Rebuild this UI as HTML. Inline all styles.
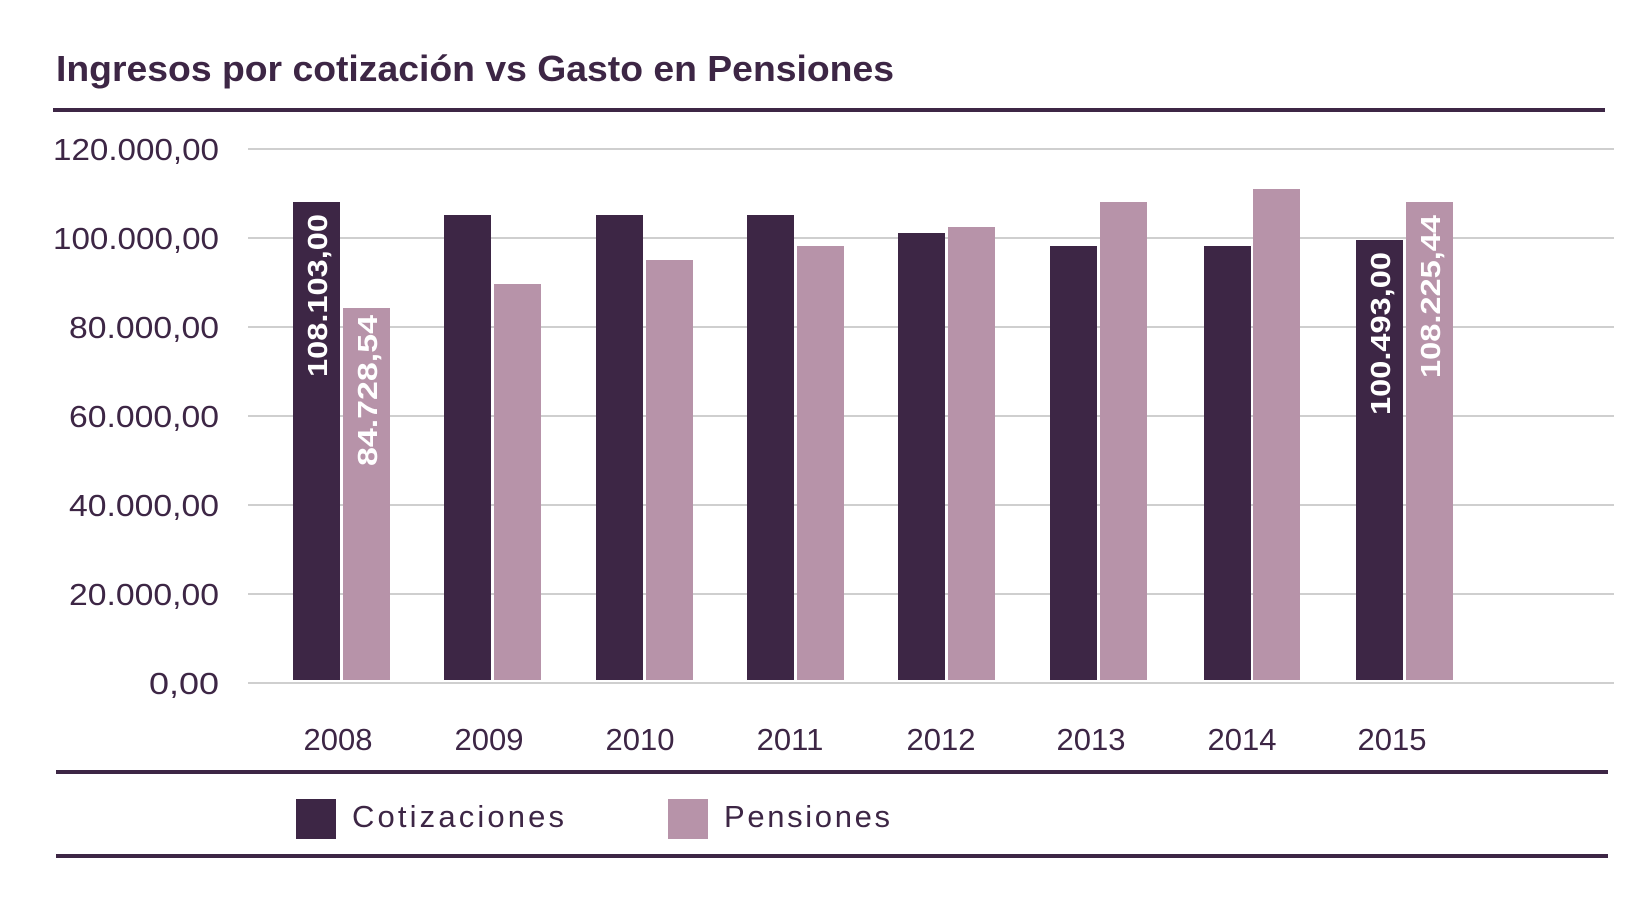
<!DOCTYPE html>
<html><head><meta charset="utf-8"><style>
html,body{margin:0;padding:0;background:#fff;}
svg{display:block;font-family:"Liberation Sans",sans-serif;}
</style></head><body>
<svg width="1647" height="907" viewBox="0 0 1647 907" xmlns="http://www.w3.org/2000/svg">
<text x="56" y="81" font-size="36" fill="#3d2645" font-weight="bold" textLength="838" lengthAdjust="spacingAndGlyphs">Ingresos por cotización vs Gasto en Pensiones</text>
<rect x="53" y="108" width="1552" height="4" fill="#3d2645"/>
<g stroke="#cfcfcf" stroke-width="2">
<line x1="248" x2="1614" y1="149" y2="149"/>
<line x1="248" x2="1614" y1="238" y2="238"/>
<line x1="248" x2="1614" y1="327" y2="327"/>
<line x1="248" x2="1614" y1="416" y2="416"/>
<line x1="248" x2="1614" y1="505" y2="505"/>
<line x1="248" x2="1614" y1="594" y2="594"/>
<line x1="248" x2="1614" y1="683" y2="683"/>
</g>
<g font-size="31" fill="#3d2645" text-anchor="end">
<text x="219" y="160" textLength="166" lengthAdjust="spacingAndGlyphs">120.000,00</text>
<text x="219" y="249" textLength="166" lengthAdjust="spacingAndGlyphs">100.000,00</text>
<text x="219" y="338" textLength="150" lengthAdjust="spacingAndGlyphs">80.000,00</text>
<text x="219" y="427" textLength="150" lengthAdjust="spacingAndGlyphs">60.000,00</text>
<text x="219" y="516" textLength="150" lengthAdjust="spacingAndGlyphs">40.000,00</text>
<text x="219" y="605" textLength="150" lengthAdjust="spacingAndGlyphs">20.000,00</text>
<text x="219" y="694" textLength="70" lengthAdjust="spacingAndGlyphs">0,00</text>
</g>
<g fill="#3d2645">
<rect x="293" y="202" width="47" height="478"/>
<rect x="444" y="215" width="47" height="465"/>
<rect x="596" y="215" width="47" height="465"/>
<rect x="747" y="215" width="47" height="465"/>
<rect x="898" y="233" width="47" height="447"/>
<rect x="1050" y="246" width="47" height="434"/>
<rect x="1204" y="246" width="47" height="434"/>
<rect x="1356" y="240" width="47" height="440"/>
</g>
<g fill="#b793a9">
<rect x="343" y="308" width="47" height="372"/>
<rect x="494" y="284" width="47" height="396"/>
<rect x="646" y="260" width="47" height="420"/>
<rect x="797" y="246" width="47" height="434"/>
<rect x="948" y="227" width="47" height="453"/>
<rect x="1100" y="202" width="47" height="478"/>
<rect x="1253" y="189" width="47" height="491"/>
<rect x="1406" y="202" width="47" height="478"/>
</g>
<g font-size="28" fill="#fff" font-weight="bold">
<text transform="translate(327,377) rotate(-90)" textLength="163" lengthAdjust="spacingAndGlyphs">108.103,00</text>
<text transform="translate(377,466) rotate(-90)" textLength="151" lengthAdjust="spacingAndGlyphs">84.728,54</text>
<text transform="translate(1390,415) rotate(-90)" textLength="163" lengthAdjust="spacingAndGlyphs">100.493,00</text>
<text transform="translate(1440,378) rotate(-90)" textLength="163" lengthAdjust="spacingAndGlyphs">108.225,44</text>
</g>
<g font-size="31" fill="#3d2645" text-anchor="middle">
<text x="338" y="750">2008</text>
<text x="489" y="750">2009</text>
<text x="640" y="750">2010</text>
<text x="790" y="750">2011</text>
<text x="941" y="750">2012</text>
<text x="1091" y="750">2013</text>
<text x="1242" y="750">2014</text>
<text x="1392" y="750">2015</text>
</g>
<rect x="56" y="770" width="1552" height="4" fill="#3d2645"/>
<rect x="296" y="799" width="40" height="40" fill="#3d2645"/>
<text x="352" y="827" font-size="31" fill="#3d2645" textLength="212" lengthAdjust="spacing">Cotizaciones</text>
<rect x="668" y="799" width="40" height="40" fill="#b793a9"/>
<text x="724" y="827" font-size="31" fill="#3d2645" textLength="166" lengthAdjust="spacing">Pensiones</text>
<rect x="56" y="854" width="1552" height="4" fill="#3d2645"/>
</svg>
</body></html>
